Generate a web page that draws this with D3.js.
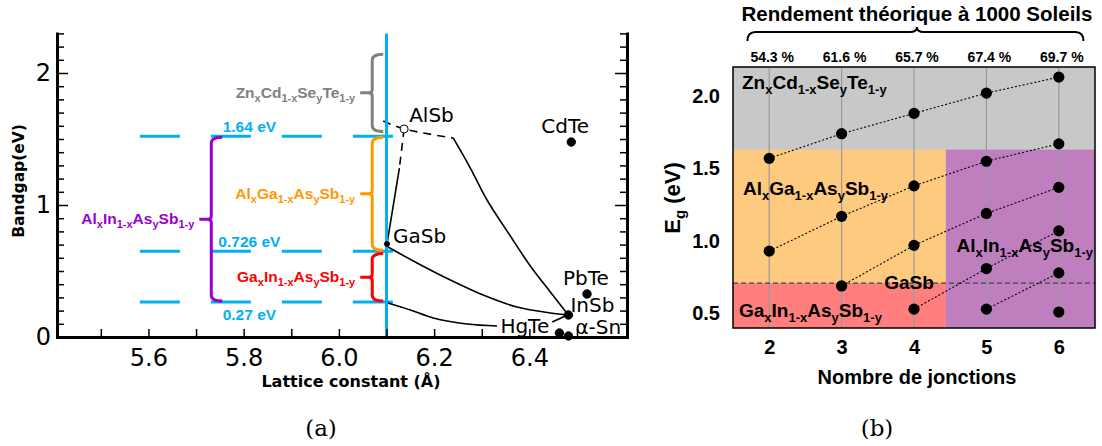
<!DOCTYPE html>
<html><head><meta charset="utf-8">
<script src="https://cdn.jsdelivr.net/npm/d3@7"></script>
<style>body{margin:0;background:#fff} svg{display:block}</style>
</head><body>
<script>
// ================= Panel (a) data =================
const compounds = ["AlSb","GaSb","InSb","HgTe","α-Sn","PbTe","CdTe"];
const latticeConst = [6.137,6.101,6.482,6.463,6.482,6.521,6.488];
const bandgap = [1.576,0.705,0.167,0.03,0.008,0.326,1.477];
const refLattice = 6.1;
const refGapLevels = [1.52,0.65,0.265];
const refGapLabels = ["1.64 eV","0.726 eV","0.27 eV"];
const xTickValuesA = [5.5,5.6,5.7,5.8,5.9,6.0,6.1,6.2,6.3,6.4,6.5];
const xTickLabelsA = [5.6,5.8,6.0,6.2,6.4];
const yTickLabelsA = [0,1,2];
// alloy curves (lattice, gap)
const curveAlSbGaSbDashed = [[6.137,1.576],[6.127,1.28]];
const curveAlSbGaSbSolid = [[6.127,1.28],[6.101,0.705]];
const curveAlSbInSbDashed = [[6.093,1.636],[6.137,1.576],[6.240,1.508]];
const curveAlSbInSbSolid = [[6.240,1.508],[6.276,1.28],[6.311,1.038],[6.360,0.765],[6.402,0.538],[6.444,0.341],[6.482,0.167]];
const curveGaSbInSb = [[6.103,0.682],[6.164,0.561],[6.234,0.432],[6.303,0.318],[6.374,0.227],[6.444,0.182],[6.482,0.167]];
const curveLowGap = [[6.103,0.258],[6.150,0.205],[6.198,0.144],[6.269,0.098],[6.332,0.083]];
const curveHgTeInSb = [[6.448,0.114],[6.480,0.167]];
// alloy gap ranges (brackets)
const alloyNames = [["Al","x","In","1-x","As","y","Sb","1-y"],["Al","x","Ga","1-x","As","y","Sb","1-y"],["Ga","x","In","1-x","As","y","Sb","1-y"],["Zn","x","Cd","1-x","Se","y","Te","1-y"]];
const alloyGapMax = [1.52,1.52,0.64,2.15];
const alloyGapMin = [0.265,0.65,0.265,1.55];
const alloyLattice = [5.732,6.07,6.07,6.07];
const alloyColors = ["#9900cc","#ff9900","#ff0000","#808080"];

// ================= Panel (b) data =================
const junctions = [2,3,4,5,6];
const efficiency = ["54.3 %","61.6 %","65.7 %","67.4 %","69.7 %"];
const subcell1 = [1.57,1.74,1.88,2.02,2.13];
const subcell2 = [0.93,1.17,1.38,1.55,1.67];
const subcell3 = [null,0.69,0.97,1.19,1.37];
const subcell4 = [null,null,0.53,0.81,1.07];
const subcell5 = [null,null,null,0.53,0.78];
const subcell6 = [null,null,null,null,0.51];
const yTickValuesB = [0.5,1.0,1.5,2.0];
const gasbGap = 0.71;
const iiiVTop = 1.63;
const alInSplit = 4.44;

const SANS = "'Liberation Sans', Arial, sans-serif";
const DEJA = "'DejaVu Sans', sans-serif";

const svg = d3.select("body").append("svg").attr("width",1102).attr("height",446);

function rich(text, parts, size, sub, shift){
  parts.forEach((p,i)=>{
    const isSub = i%2===1;
    text.append("tspan").text(p).attr("font-size",isSub?sub:size)
      .attr("dy", i===0?0:(isSub?shift:-shift));
  });
  return text;
}

// ================= Panel (a) =================
const xA = d3.scaleLinear().domain([5.408,6.605]).range([57,627]);
const yA = d3.scaleLinear().domain([0,2.3]).range([337,33.4]);
const gA = svg.append("g");
const lineA = d3.line().x(d=>xA(d[0])).y(d=>yA(d[1])).curve(d3.curveCatmullRom);

// blue dashed reference levels
gA.selectAll(".ref").data(refGapLevels).join("line")
  .attr("x1",xA(5.582)).attr("x2",xA(6.116)).attr("y1",d=>yA(d)).attr("y2",d=>yA(d))
  .attr("stroke","#00b0f0").attr("stroke-width",3).attr("stroke-dasharray","40,31");
gA.selectAll(".reflab").data(refGapLabels).join("text")
  .attr("x",xA(5.812)).attr("y",(d,i)=>yA(refGapLevels[i]) + (i<2?-4:18))
  .attr("text-anchor","middle").attr("font-family",SANS).attr("font-weight","bold")
  .attr("font-size",15.5).attr("fill","#00b0f0").text(d=>d);

// brackets
alloyNames.forEach((name,i)=>{
  const x = xA(alloyLattice[i]);
  const y1 = yA(alloyGapMax[i]) + 1, y2 = yA(alloyGapMin[i]) - 1;
  const ym = (y1+y2)/2, w = 11, n = 12, r = 6;
  const p = `M${x+w},${y1} Q${x},${y1} ${x},${y1+r} L${x},${ym-3} Q${x},${ym} ${x-4},${ym} L${x-n},${ym} M${x-4},${ym} Q${x},${ym} ${x},${ym+3} L${x},${y2-r} Q${x},${y2} ${x+w},${y2}`;
  gA.append("path").attr("d",p).attr("fill","none").attr("stroke",alloyColors[i]).attr("stroke-width",3);
  const t = gA.append("text").attr("x",x-n-5).attr("y",ym+5).attr("text-anchor","end")
    .attr("font-family",SANS).attr("font-weight","bold").attr("fill",alloyColors[i]);
  rich(t,name,15.5,11,4);
});

// curves
[[curveAlSbGaSbDashed,true],[curveAlSbGaSbSolid,false],[curveAlSbInSbDashed,true],[curveAlSbInSbSolid,false],
 [curveGaSbInSb,false],[curveLowGap,false],[curveHgTeInSb,false]].forEach(([c,dash])=>{
  gA.append("path").attr("d",lineA(c)).attr("fill","none").attr("stroke","#000")
    .attr("stroke-width",1.6).attr("stroke-dasharray",dash?"8,6":null);
});

// vertical GaSb lattice line
gA.append("line").attr("x1",xA(refLattice)).attr("x2",xA(refLattice)).attr("y1",yA(0)).attr("y2",yA(2.3))
  .attr("stroke","#00b0f0").attr("stroke-width",3);

// axes
const axBottomA = d3.axisBottom(xA).tickValues(xTickValuesA).tickSize(-8).tickSizeOuter(0).tickPadding(12)
  .tickFormat(d=>xTickLabelsA.some(v=>Math.abs(v-d)<1e-6)?d3.format(".1f")(d):"");
const gxa = gA.append("g").attr("transform",`translate(0,${yA(0)})`).call(axBottomA);
const yTicksA = d3.range(0,24).map(d=>d/10);
const axLeftA = d3.axisLeft(yA).tickValues(yTicksA).tickSize(-7).tickSizeOuter(0).tickPadding(6)
  .tickFormat(d=>yTickLabelsA.includes(d)?d:"");
const gya = gA.append("g").attr("transform",`translate(${xA.range()[0]},0)`).call(axLeftA);
const axRightA = d3.axisRight(yA).tickValues(yTicksA).tickSize(-7).tickSizeOuter(0).tickFormat("");
const gyra = gA.append("g").attr("transform",`translate(${xA.range()[1]},0)`).call(axRightA);
gya.selectAll(".tick line").filter(d=>yTickLabelsA.includes(d)).attr("x2",11);
gyra.selectAll(".tick line").filter(d=>yTickLabelsA.includes(d)).attr("x2",-12);
[gxa,gya,gyra].forEach(g=>{
  g.select(".domain").attr("stroke-width",3).attr("stroke-linecap","square");
  g.selectAll(".tick line").attr("stroke-width",1.5);
  g.selectAll(".tick text").attr("font-family",DEJA).attr("font-size",24).attr("fill","#000");
});

// compound points
const pts = compounds.map((c,i)=>({c, x:latticeConst[i], y:bandgap[i]}));
const ptStyle = {"AlSb":{r:4,open:true},"GaSb":{r:2.5}};
gA.selectAll(".pt").data(pts).join("circle")
  .attr("cx",d=>xA(d.x)).attr("cy",d=>yA(d.y))
  .attr("r",d=>(ptStyle[d.c]||{r:4.2}).r)
  .attr("fill",d=>(ptStyle[d.c]||{}).open?"#fff":"#000")
  .attr("stroke","#000").attr("stroke-width",1);
const labelOffsets = {"AlSb":[5,-7],"GaSb":[6,-1],"InSb":[2,-3],"HgTe":[-59,0],"α-Sn":[7,-2],"PbTe":[-24,-9],"CdTe":[-30,-9]};
gA.selectAll(".pl").data(pts).join("text")
  .attr("x",d=>xA(d.x)+labelOffsets[d.c][0]).attr("y",d=>yA(d.y)+labelOffsets[d.c][1])
  .attr("font-family",DEJA).attr("font-size",20).attr("fill","#000").text(d=>d.c);

// axis titles
gA.append("text").attr("x",351).attr("y",387).attr("text-anchor","middle")
  .attr("font-family",DEJA).attr("font-weight","bold").attr("font-size",16).text("Lattice constant (Å)");
gA.append("text").attr("transform","translate(24,181) rotate(-90)").attr("text-anchor","middle")
  .attr("font-family",DEJA).attr("font-weight","bold").attr("font-size",15.5).text("Bandgap(eV)");
svg.append("text").attr("x",321).attr("y",436).attr("text-anchor","middle")
  .attr("font-family","'DejaVu Serif', serif").attr("font-size",23).text("(a)");

// ================= Panel (b) =================
const xB = d3.scaleLinear().domain([1.5,6.5]).range([733,1095]);
const yB = d3.scaleLinear().domain([0.4,2.2]).range([328,67]);
const gB = svg.append("g");
function rectB(x0,x1,y0,y1,fill){
  gB.append("rect").attr("x",xB(x0)).attr("width",xB(x1)-xB(x0))
    .attr("y",yB(y1)).attr("height",yB(y0)-yB(y1)).attr("fill",fill);
}
rectB(1.5,6.5,0.4,2.2,"#c8c8c8");
rectB(1.5,alInSplit,gasbGap,iiiVTop,"#fdca80");
rectB(alInSplit,6.5,0.4,iiiVTop,"#bf7fbf");
rectB(1.5,alInSplit,0.4,gasbGap,"#ff7f7f");

gB.selectAll(".grid").data(junctions).join("line")
  .attr("x1",d=>xB(d)).attr("x2",d=>xB(d)).attr("y1",yB(0.4)).attr("y2",yB(2.2))
  .attr("stroke","#999").attr("stroke-width",1.2);
gB.append("line").attr("x1",xB(1.5)).attr("x2",xB(6.5)).attr("y1",yB(gasbGap)).attr("y2",yB(gasbGap))
  .attr("stroke","#444").attr("stroke-width",1.2).attr("stroke-dasharray","5,3");

const series = [subcell1,subcell2,subcell3,subcell4,subcell5,subcell6];
const lineB = d3.line().defined(d=>d[1]!=null).x(d=>xB(d[0])).y(d=>yB(d[1]));
series.forEach(s=>{
  const pts2 = junctions.map((j,i)=>[j,s[i]]);
  gB.append("path").attr("d",lineB(pts2)).attr("fill","none").attr("stroke","#000")
    .attr("stroke-width",1.1).attr("stroke-dasharray","2,2");
});
series.forEach(s=>{
  gB.selectAll(null).data(junctions.map((j,i)=>[j,s[i]]).filter(d=>d[1]!=null)).join("circle")
    .attr("cx",d=>xB(d[0])).attr("cy",d=>yB(d[1])).attr("r",5.6).attr("fill","#000");
});

// in-plot labels
function labB(parts,x,y,anchor){
  const t = gB.append("text").attr("x",x).attr("y",y).attr("text-anchor",anchor)
    .attr("font-family",SANS).attr("font-weight","bold").attr("fill","#000");
  rich(t,parts,19,13,5);
}
labB(alloyNames[3], xB(1.5)+9, 89, "start");
labB(alloyNames[1], xB(1.5)+10, 195, "start");
labB(alloyNames[0], xB(6.5)-2, 252, "end");
labB(alloyNames[2], xB(1.5)+6, 317, "start");
gB.append("text").attr("x",909).attr("y",yB(gasbGap)+6).attr("text-anchor","middle")
  .attr("font-family",SANS).attr("font-weight","bold").attr("font-size",19).text("GaSb");

gB.append("rect").attr("x",xB(1.5)).attr("y",yB(2.2)).attr("width",xB(6.5)-xB(1.5)).attr("height",yB(0.4)-yB(2.2))
  .attr("fill","none").attr("stroke","#000").attr("stroke-width",1.5);

// axes b
const gyb = gB.append("g").attr("transform",`translate(${xB(1.5)},0)`)
  .call(d3.axisLeft(yB).tickValues(yTickValuesB).tickSize(0).tickPadding(13).tickFormat(d3.format(".1f")));
const gxb = gB.append("g").attr("transform",`translate(0,${yB(0.4)})`)
  .call(d3.axisBottom(xB).tickValues(junctions).tickSize(0).tickPadding(12).tickFormat(d3.format("d")));
[gyb,gxb].forEach(g=>{
  g.select(".domain").remove();
  g.selectAll(".tick text").attr("font-family",SANS).attr("font-weight","bold").attr("font-size",20).attr("fill","#000");
});
gB.append("text").attr("x",917).attr("y",384).attr("text-anchor","middle")
  .attr("font-family",SANS).attr("font-weight","bold").attr("font-size",20).text("Nombre de jonctions");
const eg = gB.append("text").attr("transform","translate(680,198) rotate(-90)").attr("text-anchor","middle")
  .attr("font-family",SANS).attr("font-weight","bold");
rich(eg,["E","g"," (eV)"],22,15,5);

// top: efficiency
gB.append("text").attr("x",917).attr("y",21).attr("text-anchor","middle")
  .attr("font-family",SANS).attr("font-weight","bold").attr("font-size",20.5).text("Rendement théorique à 1000 Soleils");
const bx0 = xB(1.7), bx1 = xB(6.34), bxm = xB(4.04);
gB.append("path").attr("d",`M${bx0},41 Q${bx0},32 ${bx0+8},32 L${bxm-7},32 Q${bxm},32 ${bxm},27 Q${bxm},32 ${bxm+7},32 L${bx1-8},32 Q${bx1},32 ${bx1},41`)
  .attr("fill","none").attr("stroke","#000").attr("stroke-width",2);
gB.selectAll(".eff").data(efficiency).join("text")
  .attr("x",(d,i)=>xB(junctions[i])+3).attr("y",62).attr("text-anchor","middle")
  .attr("font-family",SANS).attr("font-weight","bold").attr("font-size",14).text(d=>d);

svg.append("text").attr("x",877).attr("y",436).attr("text-anchor","middle")
  .attr("font-family","'DejaVu Serif', serif").attr("font-size",23).text("(b)");
</script>
</body></html>
